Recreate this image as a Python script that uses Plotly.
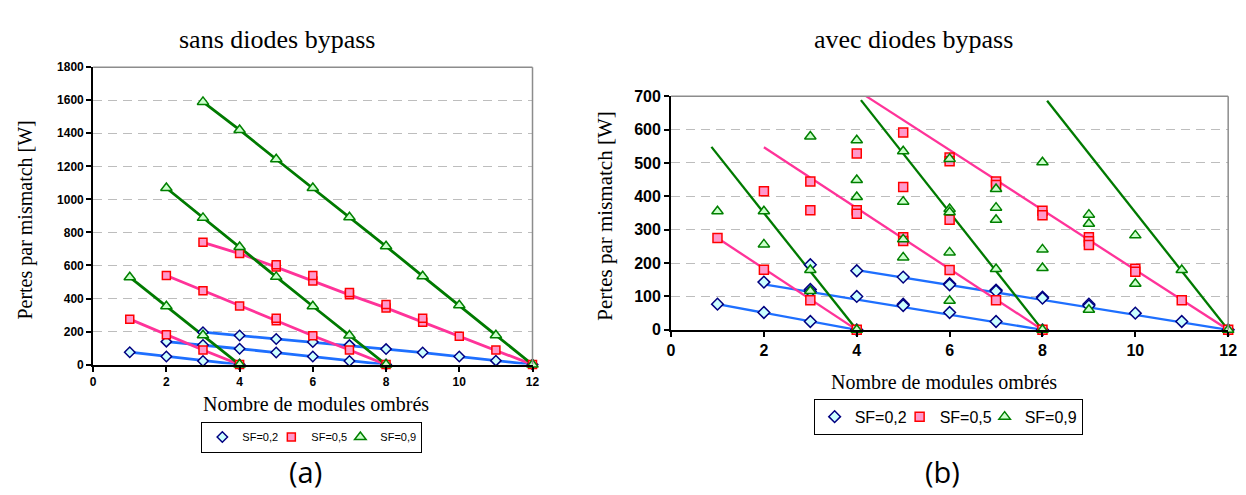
import plotly.graph_objects as go

# ---------------- data : (a) sans diodes bypass ----------------
a_x1 = [1, 2, 3, 4]
a_x2 = [2, 3, 4, 5, 6, 7, 8]
a_x3 = [3, 4, 5, 6, 7, 8, 9, 10, 11, 12]

a_sf02_1 = [75, 49, 22, 0]
a_sf02_2 = [139, 119, 96, 73, 49, 22, 0]
a_sf02_3 = [196, 176, 155, 137, 118, 94, 73, 49, 24, 0]

a_sf05_1 = [275, 180, 88, 0]
a_sf05_2 = [539, 447, 355, 265, 175, 88, 0]
a_sf05_3 = [740, 672, 590, 506, 422, 343, 257, 172, 88, 0]
a_sf05_extra_x = [5, 5, 6, 7, 8, 9]
a_sf05_extra_y = [281, 605, 539, 437, 363, 281]

a_sf09_1 = [529, 353, 178, 0]
a_sf09_2 = [1069, 888, 712, 531, 353, 176, 0]
a_sf09_3 = [1590, 1420, 1243, 1069, 892, 716, 535, 359, 178, 0]

# ---------------- data : (b) avec diodes bypass ----------------
b_sf02_x = [1, 2, 3, 4, 2, 3, 3, 4, 5, 5, 6, 7, 8, 3, 4, 5, 6, 6, 7, 7, 8, 8, 9, 9, 10, 11, 12]
b_sf02_y = [77, 52, 25, 0, 143, 121, 115, 100, 77, 73, 52, 25, 0, 195, 177, 158, 138, 135, 119, 116, 98, 95, 77, 72, 50, 25, 0]

b_sf05_x = [1, 2, 2, 3, 3, 3, 4, 4, 4, 4, 5, 5, 5, 5, 6, 6, 6, 6, 7, 7, 7, 8, 8, 8, 9, 9, 9, 10, 10, 11, 12]
b_sf05_y = [275, 180, 415, 444, 358, 89, 528, 358, 348, 0, 591, 428, 277, 266, 516, 505, 330, 179, 444, 434, 89, 357, 343, 0, 277, 265, 254, 183, 174, 89, 0]

b_sf09_x = [1, 2, 2, 3, 3, 3, 4, 4, 4, 4, 5, 5, 5, 5, 6, 6, 6, 6, 6, 7, 7, 7, 7, 8, 8, 8, 8, 9, 9, 9, 10, 10, 11, 12]
b_sf09_y = [355, 355, 256, 579, 179, 116, 568, 449, 398, 0, 535, 384, 271, 217, 512, 362, 352, 232, 87, 422, 366, 330, 182, 502, 241, 185, 0, 345, 318, 60, 283, 138, 179, 0]

# fitted straight lines (start, end) for (b)
b_line_sf02 = [([1, 4], [77, 0]), ([2, 8], [136, 0]), ([4, 12], [179, 0])]
b_line_sf05 = [([1, 4], [275, 0]), ([2, 8], [547, 0]), ([4.2, 12], [700, 0])]
b_line_sf09 = [([0.87, 4], [548, 0]), ([4.09, 8], [688, 0]), ([8.1, 12], [686, 0])]

x_ticks = [0, 2, 4, 6, 8, 10, 12]
y_ticks_a = [0, 200, 400, 600, 800, 1000, 1200, 1400, 1600, 1800]
y_ticks_b = [0, 100, 200, 300, 400, 500, 600, 700]
names = ["SF=0,2", "SF=0,5", "SF=0,9"]

# ---------------- styles ----------------
line_col = ["#1E6FFF", "#FF3399", "#007A00"]
m_sym = ["diamond", "square", "triangle-up"]
m_fill = ["#CCFFFF", "#FF99CC", "#CCFFCC"]
m_edge = ["#000080", "#FF0000", "#008000"]

fig = go.Figure()

# ---- (a) lines
a_segments = [
    [(a_x1, a_sf02_1), (a_x2, a_sf02_2), (a_x3, a_sf02_3)],
    [(a_x1, a_sf05_1), (a_x2, a_sf05_2), (a_x3, a_sf05_3)],
    [(a_x1, a_sf09_1), (a_x2, a_sf09_2), (a_x3, a_sf09_3)],
]
for i, segs in enumerate(a_segments):
    for xs, ys in segs:
        fig.add_trace(go.Scatter(x=xs, y=ys, mode="lines", showlegend=False,
                                 line=dict(color=line_col[i], width=2.8),
                                 xaxis="x", yaxis="y", hoverinfo="skip"))
# ---- (a) markers (legend widths tuned for compact entries)
a_leg_w = [24, 24, 36]
for i, segs in enumerate(a_segments):
    xs = [v for s in segs for v in s[0]]
    ys = [v for s in segs for v in s[1]]
    if i == 1:
        xs = xs + a_sf05_extra_x
        ys = ys + a_sf05_extra_y
    fig.add_trace(go.Scatter(x=xs, y=ys, mode="markers", name=names[i],
                             legend="legend", cliponaxis=False, legendwidth=a_leg_w[i],
                             marker=dict(symbol=m_sym[i], color=m_fill[i], size=[8, 8, 10][i],
                                         line=dict(color=m_edge[i], width=1.5)),
                             xaxis="x", yaxis="y"))

# ---- (b) lines
for i, segs in enumerate([b_line_sf02, b_line_sf05, b_line_sf09]):
    for xs, ys in segs:
        fig.add_trace(go.Scatter(x=xs, y=ys, mode="lines", showlegend=False,
                                 line=dict(color=line_col[i], width=2.3),
                                 xaxis="x2", yaxis="y2", hoverinfo="skip"))
# ---- (b) markers
b_leg_w = [40, 40, 52]
for i, (xs, ys) in enumerate([(b_sf02_x, b_sf02_y), (b_sf05_x, b_sf05_y), (b_sf09_x, b_sf09_y)]):
    fig.add_trace(go.Scatter(x=xs, y=ys, mode="markers", name=names[i],
                             legend="legend2", cliponaxis=False, legendwidth=b_leg_w[i],
                             marker=dict(symbol=m_sym[i], color=m_fill[i], size=[9, 9, 10][i],
                                         line=dict(color=m_edge[i], width=1.5)),
                             xaxis="x2", yaxis="y2"))

W, H = 1246, 495
def px(x): return x / W
def py(y): return (H - y) / H

tick_font_a = dict(family="Liberation Sans, Arial", size=12, color="black")
tick_font_b = dict(family="Liberation Sans, Arial", size=16, color="black")
serif = "Liberation Serif, Times New Roman, serif"

def bold(vals):
    return ["<b>%d</b>" % v for v in vals]

common_x = dict(range=[0, 12], tickvals=x_ticks, ticktext=bold(x_ticks), showgrid=False,
                zeroline=False, showline=True, linecolor="black", ticks="outside", ticklen=5,
                tickcolor="black", fixedrange=True)
common_y = dict(showgrid=True, gridcolor="#BDBDBD", griddash="9px,6px", gridwidth=1.3,
                zeroline=False, showline=True, linecolor="black", ticks="outside",
                ticklen=5, tickcolor="black", fixedrange=True)

fig.update_layout(
    width=W, height=H, margin=dict(l=0, r=0, t=0, b=0),
    paper_bgcolor="white", plot_bgcolor="white",
    xaxis=dict(**common_x, domain=[px(82), px(526)], anchor="y", linewidth=2,
               tickfont=tick_font_a, tickwidth=1.5),
    yaxis=dict(**common_y, domain=[py(361), py(53)], anchor="x", range=[0, 1800],
               tickvals=y_ticks_a, ticktext=bold(y_ticks_a), linewidth=2, tickwidth=1.5,
               tickfont=tick_font_a),
    xaxis2=dict(**common_x, domain=[px(666), px(1229)], anchor="y2", linewidth=2,
                tickfont=tick_font_b, tickwidth=1.5),
    yaxis2=dict(**common_y, domain=[py(325), py(83)], anchor="x2", range=[0, 700],
                tickvals=y_ticks_b, ticktext=bold(y_ticks_b), linewidth=2, tickwidth=1.5,
                tickfont=tick_font_b),
    legend=dict(orientation="h", x=px(303), y=py(436), xanchor="center", yanchor="middle",
                bordercolor="black", borderwidth=1, bgcolor="white", itemwidth=30,
                font=dict(family="Liberation Sans, Arial", size=11, color="black"),
                tracegroupgap=0),
    legend2=dict(orientation="h", x=px(946), y=py(415), xanchor="center", yanchor="middle",
                 bordercolor="black", borderwidth=1, bgcolor="white", itemwidth=30,
                 font=dict(family="Liberation Sans, Arial", size=16, color="black"),
                 tracegroupgap=0),
    shapes=[
        dict(type="line", xref="x domain", yref="y domain", x0=0, x1=1, y0=1, y1=1,
             line=dict(color="#8C8C8C", width=1.5)),
        dict(type="line", xref="x domain", yref="y domain", x0=1, x1=1, y0=0, y1=1,
             line=dict(color="#8C8C8C", width=1.5)),
        dict(type="line", xref="x2 domain", yref="y2 domain", x0=0, x1=1, y0=1, y1=1,
             line=dict(color="#8C8C8C", width=1.5)),
        dict(type="line", xref="x2 domain", yref="y2 domain", x0=1, x1=1, y0=0, y1=1,
             line=dict(color="#8C8C8C", width=1.5)),
    ],
    annotations=[
        dict(text="sans diodes bypass", x=px(268), y=py(24), xref="paper", yref="paper",
             showarrow=False, xanchor="center", yanchor="middle",
             font=dict(family=serif, size=26, color="black")),
        dict(text="avec diodes bypass", x=px(911), y=py(24), xref="paper", yref="paper",
             showarrow=False, xanchor="center", yanchor="middle",
             font=dict(family=serif, size=26, color="black")),
        dict(text="Pertes par mismatch [W]", x=px(14), y=py(211), xref="paper", yref="paper",
             showarrow=False, xanchor="center", yanchor="middle", textangle=-90,
             font=dict(family=serif, size=20, color="black")),
        dict(text="Pertes par mismatch [W]", x=px(599), y=py(207), xref="paper", yref="paper",
             showarrow=False, xanchor="center", yanchor="middle", textangle=-90,
             font=dict(family=serif, size=21, color="black")),
        dict(text="Nombre de modules ombrés", x=px(307), y=py(402), xref="paper", yref="paper",
             showarrow=False, xanchor="center", yanchor="middle",
             font=dict(family=serif, size=20, color="black")),
        dict(text="Nombre de modules ombrés", x=px(942), y=py(379), xref="paper", yref="paper",
             showarrow=False, xanchor="center", yanchor="middle",
             font=dict(family=serif, size=20, color="black")),
        dict(text="(a)", x=px(297), y=py(472), xref="paper", yref="paper",
             showarrow=False, xanchor="center", yanchor="middle",
             font=dict(family="Open Sans, Lato, sans-serif", size=29, color="black")),
        dict(text="(b)", x=px(940), y=py(472), xref="paper", yref="paper",
             showarrow=False, xanchor="center", yanchor="middle",
             font=dict(family="Open Sans, Lato, sans-serif", size=29, color="black")),
    ],
)

fig.write_html("out.html")
